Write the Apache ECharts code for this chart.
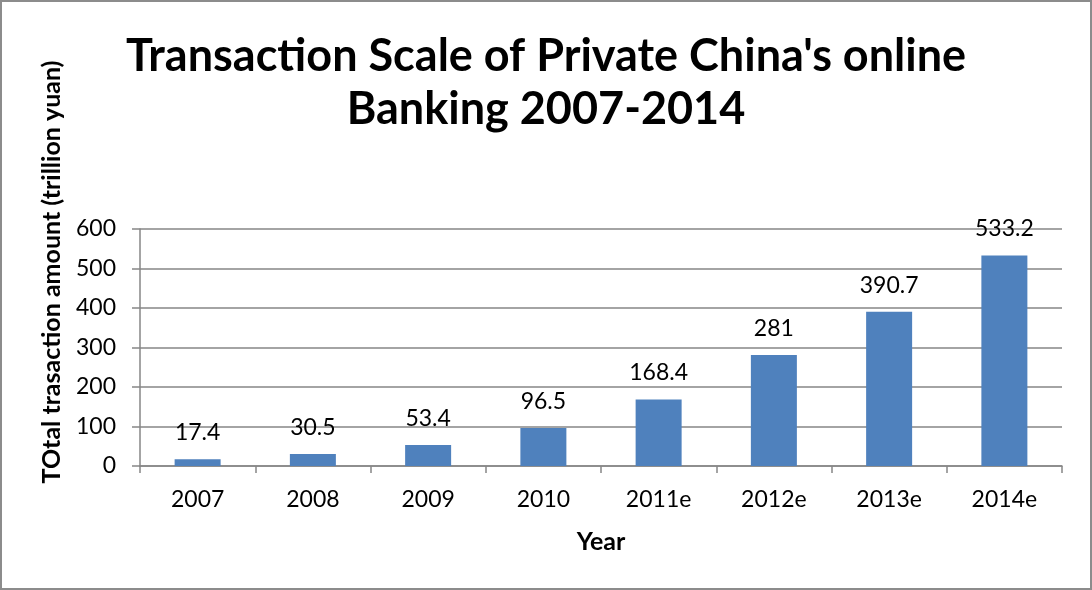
<!DOCTYPE html>
<html>
<head>
<meta charset="utf-8">
<script src="https://cdn.jsdelivr.net/npm/echarts@6/dist/echarts.min.js"></script>
<style>
  html, body { margin: 0; padding: 0; background: #fff; }
  #chart { width: 1092px; height: 590px; box-sizing: border-box; border: 2px solid #8c8c8c; }
</style>
</head>
<body>
<div id="chart"></div>
<script>
const categories = ['2007', '2008', '2009', '2010', '2011e', '2012e', '2013e', '2014e'];
const amounts = [17.4, 30.5, 53.4, 96.5, 168.4, 281, 390.7, 533.2];
const titleText = "Transaction Scale of Private China's online\nBanking 2007-2014";
const yAxisTitle = 'TOtal trasaction amount (trillion yuan)';
const xAxisTitle = 'Year';

const FONT = 'Lato, "Open Sans", sans-serif';
const chart = echarts.init(document.getElementById('chart'), null, { renderer: 'canvas' });

chart.setOption({
  animation: false,
  textStyle: { fontFamily: FONT },
  title: {
    text: titleText,
    left: 'center',
    top: 23,
    textStyle: { fontSize: 45, fontWeight: 'bold', color: '#000', lineHeight: 53, fontFamily: FONT }
  },
  grid: { left: 138, right: 28, top: 227, bottom: 122 },
  xAxis: {
    type: 'category',
    data: categories,
    name: xAxisTitle,
    nameLocation: 'middle',
    nameGap: 63,
    nameTextStyle: { fontSize: 25, fontWeight: 'bold', color: '#000' },
    axisLine: { lineStyle: { color: '#868686', width: 1.5 } },
    axisTick: { show: true, length: 7, lineStyle: { color: '#868686', width: 1.5 } },
    axisLabel: { fontSize: 23, color: '#000', margin: 22 }
  },
  yAxis: {
    type: 'value',
    min: 0,
    max: 600,
    interval: 100,
    axisLine: { show: true, lineStyle: { color: '#868686', width: 1.5 } },
    axisTick: { show: true, length: 8, lineStyle: { color: '#868686', width: 1.5 } },
    axisLabel: { fontSize: 23, color: '#000', margin: 24 },
    splitLine: { lineStyle: { color: '#868686', width: 1.5 } }
  },
  graphic: [{
    type: 'text',
    x: 50,
    y: 270,
    rotation: Math.PI / 2,
    style: {
      text: yAxisTitle,
      font: 'bold 25px ' + FONT,
      fill: '#000',
      align: 'center',
      verticalAlign: 'middle'
    }
  }],
  series: [{
    type: 'bar',
    data: amounts,
    barWidth: 46,
    itemStyle: { color: '#4F81BD' },
    label: {
      show: true,
      position: 'top',
      distance: 15,
      fontSize: 23,
      color: '#000'
    }
  }]
});
</script>
</body>
</html>
